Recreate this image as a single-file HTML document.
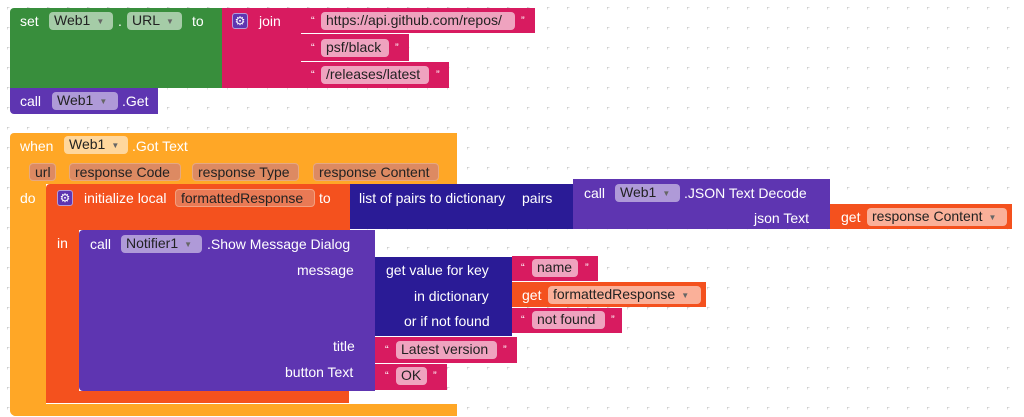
<!DOCTYPE html>
<html><head><meta charset="utf-8"><style>
body{margin:0;width:1024px;height:417px;overflow:hidden;background:#fff;position:relative;font-family:"Liberation Sans",Arial,sans-serif;font-size:14px}
.b{position:absolute}
.t{position:absolute;color:#fff;white-space:nowrap;line-height:18px;height:18px}
.f{position:absolute;height:18px;line-height:17px;border-radius:4px;color:#222;padding:0 0 0 5px;box-sizing:border-box;white-space:nowrap}
.g{position:absolute;width:16px;height:16px;background:#5e35b1;border:1px solid #b39ddb;border-radius:3px;box-sizing:border-box;color:#fff;font-size:12px;line-height:14px;text-align:center}
.q{position:absolute;color:#fff;font-size:11px;line-height:18px}
.ar{font-size:8px;color:#666;margin-left:6px;vertical-align:1px}
</style></head><body>
<svg class="b" style="left:0;top:0" width="1024" height="417">
<defs><pattern id="p" x="7" y="7" width="20" height="20" patternUnits="userSpaceOnUse">
<path d="M0 2.5H5M2.5 0V5" stroke="#bbb" stroke-width="1" transform="translate(-2.5,-2.5)"/></pattern></defs>
<rect width="1024" height="417" fill="url(#p)"/>
</svg>

<div class="b" style="left:10px;top:8px;width:212px;height:80px;background:#388e3c;border-radius:4px 0 0 0"></div>
<div class="b" style="left:222px;top:8px;width:79px;height:80px;background:#d81b60"></div>
<div class="b" style="left:301px;top:8px;width:234px;height:25px;background:#d81b60"></div>
<div class="b" style="left:301px;top:34px;width:108px;height:27px;background:#d81b60"></div>
<div class="b" style="left:301px;top:62px;width:148px;height:26px;background:#d81b60"></div>
<span class="t" style="left:20px;top:12px">set</span>
<span class="f" style="left:49px;top:12px;width:64px;background:rgba(255,255,255,.55)">Web1<span class="ar">▼</span></span>
<span class="t" style="left:118px;top:12px">.</span>
<span class="f" style="left:127px;top:12px;width:55px;background:rgba(255,255,255,.55)">URL<span class="ar">▼</span></span>
<span class="t" style="left:192px;top:12px">to</span>
<div class="g" style="left:232px;top:13px">⚙</div>
<span class="t" style="left:259px;top:12px">join</span>
<span class="q" style="left:311px;top:12px">“</span>
<span class="f" style="left:321px;top:12px;width:194px;background:rgba(255,255,255,.6)">https://api.github.com/repos/</span>
<span class="q" style="left:521px;top:12px">”</span>
<span class="q" style="left:311px;top:39px">“</span>
<span class="f" style="left:321px;top:39px;width:68px;background:rgba(255,255,255,.6)">psf/black</span>
<span class="q" style="left:395px;top:39px">”</span>
<span class="q" style="left:311px;top:66px">“</span>
<span class="f" style="left:321px;top:66px;width:108px;background:rgba(255,255,255,.6)">/releases/latest</span>
<span class="q" style="left:436px;top:66px">”</span>

<div class="b" style="left:10px;top:88px;width:148px;height:26px;background:#5e35b1;border-radius:0 0 0 4px"></div>
<span class="t" style="left:20px;top:92px">call</span>
<span class="f" style="left:52px;top:92px;width:66px;background:rgba(255,255,255,.5)">Web1<span class="ar">▼</span></span>
<span class="t" style="left:122px;top:92px">.Get</span>

<div class="b" style="left:10px;top:133px;width:447px;height:51px;background:#ffa726;border-radius:4px 0 0 0"></div>
<div class="b" style="left:10px;top:184px;width:36px;height:232px;background:#ffa726;border-radius:0 0 0 6px"></div>
<div class="b" style="left:10px;top:404px;width:447px;height:12px;background:#ffa726;border-radius:0 0 0 6px"></div>
<span class="t" style="left:20px;top:137px">when</span>
<span class="f" style="left:64px;top:136px;width:64px;background:rgba(255,255,255,.55)">Web1<span class="ar">▼</span></span>
<span class="t" style="left:132px;top:137px">.Got Text</span>
<span class="f" style="left:29px;top:163px;width:27px;background:#dd8a62;border:1px solid #e6a882">url</span>
<span class="f" style="left:69px;top:163px;width:112px;background:#dd8a62;border:1px solid #e6a882">response Code</span>
<span class="f" style="left:192px;top:163px;width:107px;background:#dd8a62;border:1px solid #e6a882">response Type</span>
<span class="f" style="left:313px;top:163px;width:126px;background:#dd8a62;border:1px solid #e6a882">response Content</span>
<span class="t" style="left:20px;top:189px">do</span>

<div class="b" style="left:46px;top:184px;width:304px;height:46px;background:#f4511e;border-radius:4px 0 0 0"></div>
<div class="b" style="left:46px;top:230px;width:33px;height:173px;background:#f4511e"></div>
<div class="b" style="left:46px;top:391px;width:303px;height:12px;background:#f4511e;border-radius:0 0 0 5px"></div>
<div class="g" style="left:57px;top:190px">⚙</div>
<span class="t" style="left:84px;top:189px">initialize local</span>
<span class="f" style="left:175px;top:189px;width:140px;background:#e97a55;border:1px solid #f3a07f">formattedResponse</span>
<span class="t" style="left:319px;top:189px">to</span>
<span class="t" style="left:57px;top:234px">in</span>

<div class="b" style="left:350px;top:184px;width:223px;height:45px;background:#2a1b96"></div>
<span class="t" style="left:359px;top:189px">list of pairs to dictionary</span>
<span class="t" style="left:522px;top:189px">pairs</span>
<div class="b" style="left:573px;top:179px;width:257px;height:50px;background:#5e35b1"></div>
<span class="t" style="left:584px;top:184px">call</span>
<span class="f" style="left:615px;top:184px;width:65px;background:rgba(255,255,255,.5)">Web1<span class="ar">▼</span></span>
<span class="t" style="left:684px;top:184px">.JSON Text Decode</span>
<span class="t" style="left:754px;top:209px">json Text</span>
<div class="b" style="left:830px;top:204px;width:182px;height:25px;background:#f4511e"></div>
<span class="t" style="left:841px;top:208px">get</span>
<span class="f" style="left:867px;top:208px;width:140px;background:rgba(255,255,255,.55)">response Content<span class="ar">▼</span></span>

<div class="b" style="left:79px;top:230px;width:296px;height:161px;background:#5e35b1;border-radius:4px 0 0 4px"></div>
<span class="t" style="left:90px;top:235px">call</span>
<span class="f" style="left:121px;top:235px;width:81px;background:rgba(255,255,255,.5)">Notifier1<span class="ar">▼</span></span>
<span class="t" style="left:207px;top:235px">.Show Message Dialog</span>
<span class="t" style="left:297px;top:261px">message</span>
<span class="t" style="left:333px;top:337px">title</span>
<span class="t" style="left:285px;top:363px">button Text</span>

<div class="b" style="left:375px;top:257px;width:137px;height:79px;background:#2a1b96"></div>
<span class="t" style="left:386px;top:261px">get value for key</span>
<span class="t" style="left:414px;top:287px">in dictionary</span>
<span class="t" style="left:404px;top:312px">or if not found</span>

<div class="b" style="left:512px;top:256px;width:86px;height:25px;background:#d81b60"></div>
<span class="q" style="left:521px;top:259px">“</span>
<span class="f" style="left:532px;top:259px;width:46px;background:rgba(255,255,255,.6)">name</span>
<span class="q" style="left:585px;top:259px">”</span>
<div class="b" style="left:512px;top:282px;width:194px;height:25px;background:#f4511e"></div>
<span class="t" style="left:522px;top:286px">get</span>
<span class="f" style="left:548px;top:286px;width:153px;background:rgba(255,255,255,.55)">formattedResponse<span class="ar">▼</span></span>
<div class="b" style="left:512px;top:308px;width:110px;height:25px;background:#d81b60"></div>
<span class="q" style="left:521px;top:311px">“</span>
<span class="f" style="left:532px;top:311px;width:73px;background:rgba(255,255,255,.6)">not found</span>
<span class="q" style="left:611px;top:311px">”</span>

<div class="b" style="left:375px;top:337px;width:142px;height:26px;background:#d81b60"></div>
<span class="q" style="left:385px;top:341px">“</span>
<span class="f" style="left:396px;top:341px;width:101px;background:rgba(255,255,255,.6)">Latest version</span>
<span class="q" style="left:503px;top:341px">”</span>
<div class="b" style="left:375px;top:364px;width:72px;height:26px;background:#d81b60"></div>
<span class="q" style="left:385px;top:367px">“</span>
<span class="f" style="left:396px;top:367px;width:31px;background:rgba(255,255,255,.6)">OK</span>
<span class="q" style="left:433px;top:367px">”</span>
</body></html>
